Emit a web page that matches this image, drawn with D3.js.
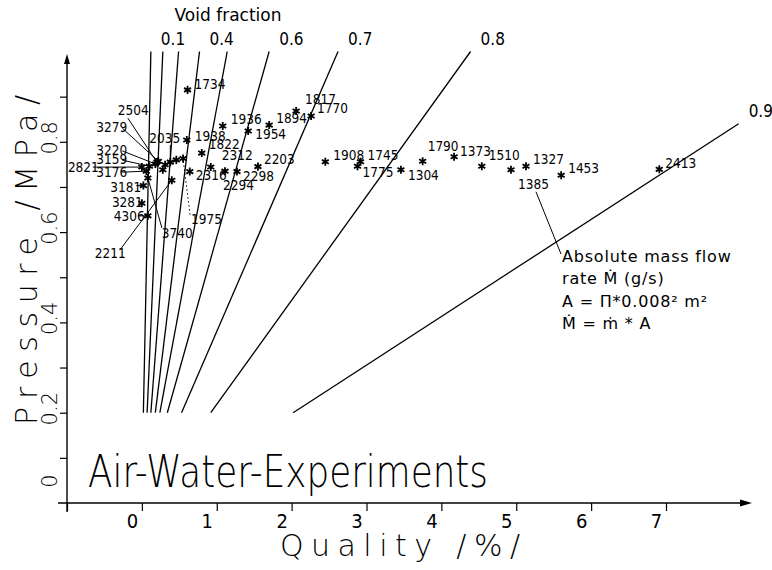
<!DOCTYPE html>
<html>
<head>
<meta charset="utf-8">
<script src="https://cdn.jsdelivr.net/npm/d3@7"></script>
<style>
body { margin: 0; background: #fff; }
text { fill: #000; }
</style>
</head>
<body>
<div id="chart"></div>
<script>
// measured points: absolute mass flow (label), quality /%/, pressure /MPa/
var massFlow = ["1734", "1817", "1770", "1894", "1936", "1954", "1938", "1822", "1975", "2312",
    "2203", "2316", "2294", "2298", "1908", "1745", "1775", "1304", "1790", "1373",
    "1510", "1385", "1327", "1453", "2413",
    "2504", "3279", "2035", "3220", "3159", "2821", "3176", "3181", "3281", "4306",
    "2211", "3740", "", "", ""];
var quality = [0.61, 2.06, 2.26, 1.70, 1.08, 1.42, 0.60, 0.80, 0.55, 0.92,
    1.55, 0.64, 1.11, 1.27, 2.45, 2.92, 2.88, 3.46, 3.75, 4.17,
    4.54, 4.93, 5.13, 5.60, 6.91,
    0.20, 0.22, 0.38, 0.18, 0.10, 0.00, 0.06, 0.02, 0.00, 0.08,
    0.40, 0.08, 0.31, 0.46, 0.28];
var pressure = [0.915, 0.868, 0.857, 0.837, 0.835, 0.824, 0.804, 0.775, 0.763, 0.744,
    0.745, 0.734, 0.735, 0.734, 0.756, 0.756, 0.746, 0.738, 0.757, 0.767,
    0.746, 0.738, 0.746, 0.726, 0.739,
    0.755, 0.757, 0.755, 0.751, 0.746, 0.744, 0.735, 0.703, 0.664, 0.636,
    0.715, 0.720, 0.749, 0.760, 0.738];

// lines of constant void fraction
var voidFraction = [0.1, 0.2, 0.3, 0.4, 0.5, 0.6, 0.7, 0.8, 0.9];
var voidQualityLow = [0.02, 0.07, 0.12, 0.18, 0.24, 0.34, 0.53, 0.92, 2.02];
var voidQualityHigh = [0.12, 0.28, 0.49, 0.77, 1.14, 1.70, 2.62, 4.39, 7.97];
var voidPressureLow = [0.2, 0.2, 0.2, 0.2, 0.2, 0.2, 0.2, 0.2, 0.2];
var voidPressureHigh = [1, 1, 1, 1, 1, 1, 1, 1, 0.84];
var voidLabelled = [0.1, 0.4, 0.6, 0.7, 0.8, 0.9];

var qualityTicks = [-1, 0, 1, 2, 3, 4, 5, 6, 7];
var pressureTicks = [0.1, 0.2, 0.3, 0.4, 0.5, 0.6, 0.7, 0.8, 0.9];
var pressureLabels = [0, 0.2, 0.4, 0.6, 0.8];

var noteLines = ["Absolute mass flow", "rate \u1E40 (g/s)", "A = \u03A0*0.008\u00B2  m\u00B2", "\u1E40 = \u1E41  * A"];

// label placement: [dx, dy, leaderDx, leaderDy, dotted]
var labelPos = {
    "1734": [7, -1], "1817": [9, -7], "1770": [6, -3], "1894": [7, -2], "1936": [8, -2],
    "1954": [7, 8], "1938": [8, 1], "1822": [7, -4], "1975": [8, 65, 7, 56, true],
    "2312": [11, -7], "2203": [6, -3], "2316": [6, 8], "2294": [-2, 19], "2298": [6, 9],
    "1908": [8, -2], "1745": [7, -2], "1775": [5, 11], "1304": [7, 10], "1790": [5, -10],
    "1373": [6, -1], "1510": [7, -6], "1385": [7, 19], "1327": [7, -2], "1453": [7, -2],
    "2413": [6, -1],
    "2504": [-39, -47, -29, -44], "3279": [-62, -29, -36, -33], "2035": [-21, -19, 0, -17],
    "3220": [-59, -9, -33, -13], "3159": [-53, -2, -27, -6], "2821": [-74, 5, -49, 0],
    "3176": [-50, 6, -24, 1], "3181": [-33, 6, -7, 0], "3281": [-30, 4], "4306": [-34, 5, -9, 0],
    "2211": [-77, 78, -52, 70], "3740": [14, 60, 14, 50]
};

var svgW = 772, svgH = 570;
var x = d3.scaleLinear().domain([-1, 7]).range([67, 666]);
var y = d3.scaleLinear().domain([0, 1]).range([503, 51.5]);

var svg = d3.select("#chart").append("svg")
    .attr("width", svgW)
    .attr("height", svgH)
    .style("font-family", "'DejaVu Sans', sans-serif");

// void fraction lines
svg.append("g").selectAll("line")
    .data(voidFraction)
    .enter().append("line")
    .attr("x1", function(d, i) { return x(voidQualityLow[i]); })
    .attr("y1", function(d, i) { return y(voidPressureLow[i]); })
    .attr("x2", function(d, i) { return x(voidQualityHigh[i]); })
    .attr("y2", function(d, i) { return y(voidPressureHigh[i]); })
    .attr("stroke", "#000")
    .attr("stroke-width", 1.3);

svg.append("g").selectAll("text")
    .data(voidLabelled)
    .enter().append("text")
    .attr("x", function(d) { var i = voidFraction.indexOf(d); return x(voidQualityHigh[i]) + 10; })
    .attr("y", function(d) { var i = voidFraction.indexOf(d); return y(voidPressureHigh[i]) - 7; })
    .style("font-family", "'Liberation Sans Narrow', 'DejaVu Sans Condensed', sans-serif")
    .style("font-size", "17px")
    .text(function(d) { return d; });

svg.append("text")
    .attr("x", 228)
    .attr("y", 20.5)
    .attr("text-anchor", "middle")
    .style("font-size", "17px")
    .text("Void fraction");

// axes
var xAxis = d3.axisBottom(x)
    .tickValues(qualityTicks)
    .tickSize(8)
    .tickSizeOuter(0)
    .tickFormat(function(d) { return d < 0 ? "" : d; });

svg.append("g")
    .attr("transform", "translate(0," + y(0) + ")")
    .call(xAxis)
    .call(function(g) {
        g.select(".domain").remove();
        g.selectAll("line").attr("stroke-width", 1.2);
        g.selectAll("text")
            .attr("dx", -10)
            .style("font-family", "'Liberation Sans Narrow', 'DejaVu Sans Condensed', sans-serif")
            .style("font-size", "20px")
            .style("font-weight", "300");
    });

var yAxis = d3.axisLeft(y)
    .tickValues(pressureTicks)
    .tickSize(7)
    .tickSizeOuter(0)
    .tickFormat("");

svg.append("g")
    .attr("transform", "translate(" + x(-1) + ",0)")
    .call(yAxis)
    .call(function(g) {
        g.select(".domain").remove();
        g.selectAll("line").attr("stroke-width", 1.2);
    });

// axis lines with arrow heads
svg.append("line")
    .attr("x1", 58).attr("y1", y(0))
    .attr("x2", 745).attr("y2", y(0))
    .attr("stroke", "#000").attr("stroke-width", 1.4);
svg.append("path")
    .attr("d", "M752," + y(0) + "L740," + (y(0) - 3.5) + "L740," + (y(0) + 3.5) + "Z")
    .attr("fill", "#000");
svg.append("line")
    .attr("x1", x(-1)).attr("y1", 512)
    .attr("x2", x(-1)).attr("y2", 60)
    .attr("stroke", "#000").attr("stroke-width", 1.4);
svg.append("path")
    .attr("d", "M" + x(-1) + ",54L" + (x(-1) - 3) + ",64L" + (x(-1) + 3) + ",64Z")
    .attr("fill", "#000");

svg.append("g").selectAll("text")
    .data(pressureLabels)
    .enter().append("text")
    .attr("transform", function(d) {
        return "translate(56.5," + (y(d) - (d === 0 ? 22 : 4)) + ") rotate(-90)";
    })
    .attr("text-anchor", "middle")
    .style("font-size", "21px")
    .style("font-weight", "200")
    .text(function(d) { return d; });

svg.append("text")
    .attr("transform", "translate(37,260) rotate(-90)")
    .attr("text-anchor", "middle")
    .attr("textLength", 330)
    .attr("lengthAdjust", "spacing")
    .style("font-size", "30px")
    .style("font-weight", "200")
    .text("Pressure /MPa/");

svg.append("text")
    .attr("x", 400)
    .attr("y", 556)
    .attr("text-anchor", "middle")
    .attr("textLength", 240)
    .attr("lengthAdjust", "spacing")
    .style("font-size", "30px")
    .style("font-weight", "200")
    .text("Quality /%/");

svg.append("text")
    .attr("x", 88)
    .attr("y", 487)
    .attr("textLength", 400)
    .attr("lengthAdjust", "spacingAndGlyphs")
    .style("font-size", "45px")
    .style("font-weight", "300")
    .text("Air-Water-Experiments");

// leader lines
var idx = d3.range(massFlow.length);
svg.append("g").selectAll("line")
    .data(idx.filter(function(i) { var p = labelPos[massFlow[i]]; return p && p.length > 2; }))
    .enter().append("line")
    .attr("x1", function(i) { return x(quality[i]) + labelPos[massFlow[i]][2]; })
    .attr("y1", function(i) { return y(pressure[i]) + labelPos[massFlow[i]][3]; })
    .attr("x2", function(i) { return x(quality[i]); })
    .attr("y2", function(i) { return y(pressure[i]); })
    .attr("stroke", "#000")
    .attr("stroke-width", 1)
    .attr("stroke-dasharray", function(i) { return labelPos[massFlow[i]][4] ? "1.5,2.5" : null; });

// markers
svg.append("g").selectAll("path")
    .data(idx)
    .enter().append("path")
    .attr("transform", function(i) { return "translate(" + x(quality[i]) + "," + y(pressure[i]) + ")"; })
    .attr("d", d3.symbol().type(d3.symbolAsterisk).size(45))
    .attr("stroke", "#000")
    .attr("stroke-width", 1.8)
    .attr("fill", "none");

svg.append("g").selectAll("text")
    .data(idx.filter(function(i) { return massFlow[i] !== ""; }))
    .enter().append("text")
    .attr("x", function(i) { return x(quality[i]) + labelPos[massFlow[i]][0]; })
    .attr("y", function(i) { return y(pressure[i]) + labelPos[massFlow[i]][1]; })
    .style("font-family", "'Liberation Sans Narrow', 'DejaVu Sans Condensed', sans-serif")
    .style("font-size", "13.5px")
    .text(function(i) { return massFlow[i]; });

// note about the mass flow
var i1385 = massFlow.indexOf("1385");
svg.append("line")
    .attr("x1", x(quality[i1385]) + 25).attr("y1", y(pressure[i1385]) + 22)
    .attr("x2", 561).attr("y2", 254)
    .attr("stroke", "#000").attr("stroke-width", 1);

svg.append("g").selectAll("text")
    .data(noteLines)
    .enter().append("text")
    .attr("x", 562)
    .attr("y", function(d, i) { return 262 + i * 22.4; })
    .style("font-size", "16px")
    .style("letter-spacing", "0.8px")
    .text(function(d) { return d; });
</script>
</body>
</html>
